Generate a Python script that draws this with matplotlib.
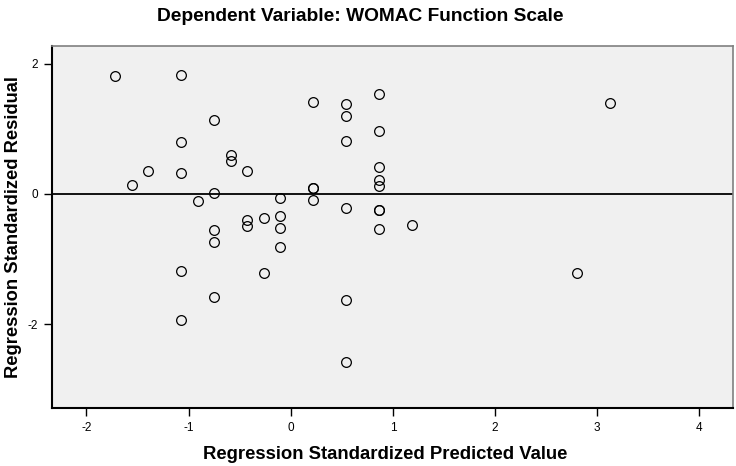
import matplotlib
matplotlib.use("Agg")
import matplotlib.pyplot as plt

plt.rcParams['font.family'] = ['Liberation Sans', 'DejaVu Sans']
plt.rcParams['axes.unicode_minus'] = False

# standardized predicted values / residuals
pred = [-1.717, -1.071, 0.217, 0.543, 0.543, 0.543, -0.749, -1.071, -0.589, -0.589,
        -0.429, -1.394, -1.071, -1.554, -0.749, -0.908, -0.103, 0.217, 0.217, 0.217,
        0.543, -0.266, -0.103, -0.429, -0.429, -0.103, -0.749, -0.103, -0.749, -1.071,
        -0.266, -0.749, 0.543, -1.071, 0.543, 0.866, 0.866, 3.123, 0.866, 0.866,
        0.866, 0.866, 0.866, 1.186, 0.866, 2.80]
resid = [1.81, 1.835, 1.415, 1.385, 1.195, 0.82, 1.138, 0.795, 0.598, 0.512,
         0.354, 0.359, 0.328, 0.138, 0.01, -0.113, -0.058, 0.098, 0.098, -0.09,
         -0.22, -0.374, -0.338, -0.40, -0.487, -0.524, -0.55, -0.81, -0.743, -1.18,
         -1.22, -1.59, -1.635, -1.933, -2.58, 1.543, 0.969, 1.40, 0.41, 0.215,
         0.13, -0.25, -0.25, -0.472, -0.535, -1.21]

xticks = [-2, -1, 0, 1, 2, 3, 4]
yticks = [-2, 0, 2]

fig = plt.figure(figsize=(7.36, 4.66), dpi=100)
ax = fig.add_axes([0.0702, 0.1245, 0.9258, 0.7775])
ax.set_facecolor('#f0f0f0')

ax.axhline(0, color='black', lw=1.3, zorder=1)
ax.plot(pred, resid, 'o', ms=7, mfc='none', mec='black', mew=0.9, zorder=2)

ax.set_xlim(-2.34, 4.33)
ax.set_ylim(-3.29, 2.28)
ax.set_xticks(xticks)
ax.set_yticks(yticks)
ax.tick_params(direction='out', length=6, width=1, labelsize=8.5, pad=4)

for s in ['left', 'bottom']:
    ax.spines[s].set_color('black')
    ax.spines[s].set_linewidth(1.5)
for s in ['top', 'right']:
    ax.spines[s].set_color('#808080')
    ax.spines[s].set_linewidth(1.2)

ax.set_title('Dependent Variable: WOMAC Function Scale', fontsize=13.8, fontweight='bold',
             pad=18, x=0.4525)
ax.set_xlabel('Regression Standardized Predicted Value', fontsize=13.3, fontweight='bold', labelpad=9)
ax.xaxis.label.set_x(0.49)
ax.set_ylabel('Regression Standardized Residual', fontsize=13.2, fontweight='bold', labelpad=4)

fig.savefig('out.png', dpi=100)
